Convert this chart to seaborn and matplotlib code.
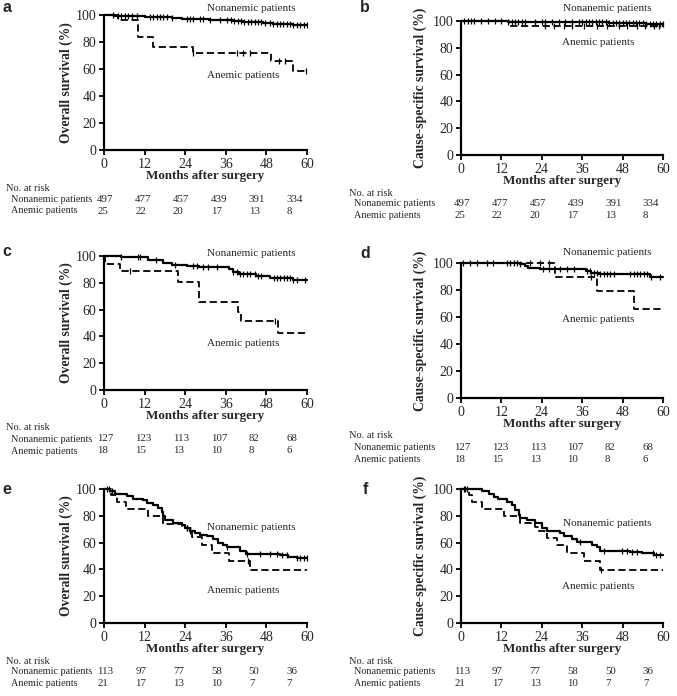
import numpy as np
import matplotlib
matplotlib.use("Agg")
import matplotlib.pyplot as plt
import matplotlib.transforms as mtransforms
import seaborn as sns

# ---- survival curves (months, %) ----
a_non_t = [0, 3, 8, 12, 16, 20, 23, 27, 31, 35, 38, 41, 44, 47, 50, 53, 56, 58, 60]
a_non_s = [100, 99.6, 99.2, 98.8, 98.4, 97.9, 97.4, 96.9, 96.4, 96.0, 95.5, 95.0, 94.5, 94.0, 93.6, 93.2, 92.8, 92.4, 92.4]
a_non_c = [2.8, 4.2, 4.9, 6.2, 7.2, 8.2, 9.7, 13.6, 14.6, 15.6, 16.6, 17.5, 18.5, 20.0, 24.4, 25.4,
           26.4, 28.4, 29.4, 31.3, 34.3, 36.3, 37.5, 38.5, 39.5, 40.5, 41.5, 42.5, 43.5, 44.5, 45.5,
           46.5, 47.5, 49, 50, 51, 52, 53, 54, 55, 56, 57, 58, 59, 60]
a_ane_t = [0, 4.1, 10, 14.5, 26.4, 49.3, 55.8, 60]
a_ane_s = [100, 96, 84, 76, 72, 66, 58.6, 58.6]
a_ane_c = [26.4, 39.2, 41.2, 43.2, 51.6, 53.6, 59.8]

b_non_t = [0, 8, 14, 20, 28, 36, 44, 50, 55, 58, 60]
b_non_s = [100, 99.8, 99.6, 99.4, 99.2, 99.0, 98.7, 98.4, 98.0, 97.6, 97.6]
b_non_c = [1, 2, 3, 4, 6, 8, 10, 12, 14, 15, 16, 17, 18, 19, 22, 24, 25, 27, 29, 31, 33, 35, 36, 37,
           38, 39, 40, 41, 42, 43, 44, 45, 46, 47, 48, 49, 50, 51, 52, 53, 54, 55, 56, 57, 58, 59, 60]
b_ane_t = [0, 14.3, 60]
b_ane_s = [100, 96, 96]
b_ane_c = [25.0, 27.5, 30.5, 32.9, 36.4, 40.4, 43.3, 46.8, 49.3, 52.2, 54.7, 57.2, 58.7]

c_non_t = [0, 5, 13, 17.5, 20, 24.4, 28, 37, 38, 40, 45, 49, 56, 60]
c_non_s = [100, 99, 97, 95, 93.5, 92.5, 91.5, 90, 88, 86.5, 85, 83.5, 82, 82]
c_non_c = [5.1, 10.1, 10.6, 15.5, 20.9, 26.4, 27.4, 29.3, 30.8, 33.3, 38.2, 39.2, 40.2, 41.2, 42.2,
           43.2, 44.5, 45.5, 46.5, 50.1, 51.1, 52.1, 53.1, 54.1, 55, 56, 57, 59.5]
c_ane_t = [0, 0.3, 4.6, 22, 28, 39.5, 40.4, 51.3, 60]
c_ane_s = [100, 94.4, 88.9, 80.6, 66, 58.5, 51.7, 42.8, 42.8]
c_ane_c = [7.6, 50.6]

d_non_t = [0, 17.5, 19, 20, 23.5, 37, 38.5, 41, 56, 60]
d_non_s = [100, 99, 97.5, 96, 95.5, 94, 92.5, 91.5, 90, 90]
d_non_c = [0.7, 2.7, 4.7, 7.6, 9.6, 13.6, 14.6, 15.6, 16.6, 17.6, 24.5, 26, 29.5, 31.5, 33.5, 37.4,
           38.4, 39.4, 40.4, 41.4, 42.4, 43.4, 44.4, 45.4, 50.3, 51.3, 52.3, 53.3, 54.3, 55.3, 56.3, 59.2]
d_ane_t = [0, 28, 40.4, 51.3, 60]
d_ane_s = [100, 90, 78.9, 65.6, 65.6]
d_ane_c = [20.5, 23.5, 26, 38.5]

e_non_t = [0, 1.8, 3.2, 6.7, 8.7, 11.6, 12.6, 14.6, 16, 17, 17.5, 18, 20.5, 23, 24, 25.4, 27, 28.4,
           30.3, 32.3, 33.8, 35.3, 36.3, 40.2, 42, 52, 54.5, 57, 60]
e_non_s = [100, 98.8, 96.5, 94.5, 92.8, 91.6, 89.6, 88, 85.5, 83, 79.5, 77, 75, 73.5, 71, 68.7, 67.5,
           66, 65, 62.6, 60, 58, 56.5, 54, 51.8, 50.6, 49.4, 48.6, 48.6]
e_non_c = [0.8, 1.6, 2.3, 24.4, 25.4, 36.3, 42.2, 46.1, 49.1, 51.1, 52.5, 54, 57, 58, 59, 60]
e_ane_t = [0, 2.2, 3.7, 6.6, 13, 17.5, 23, 25.9, 28.9, 31.8, 36.8, 43.2, 60]
e_ane_s = [100, 95.2, 90.5, 85, 79.5, 74, 71, 64, 58, 52, 46, 39.5, 39.5]
e_ane_c = [24.5, 42.5]

f_non_t = [0, 6.2, 8.2, 9.7, 11, 13.7, 15, 16.1, 17.1, 17.6, 19.6, 22.1, 24.1, 25.5, 29.5, 30.5, 33,
           34.5, 39, 40.4, 41.4, 50.3, 53.8, 57.3, 60]
f_non_s = [100, 98.8, 96.4, 94, 92.8, 90.4, 88, 84.3, 80.7, 78.3, 77, 74.7, 71, 69, 67.5, 65, 62.6,
           60.2, 58, 56.6, 54, 53, 52, 51, 51]
f_non_c = [0.8, 1.3, 1.8, 35.4, 42.4, 47.8, 49.3, 50.8, 52.3, 57, 58, 59]
f_ane_t = [0, 2.3, 3.3, 6.2, 12.7, 17.6, 22.1, 23.1, 25.5, 28.5, 31.5, 36.4, 41.4, 60]
f_ane_s = [100, 95.2, 90.5, 85, 80, 74.7, 72, 69, 63.5, 58, 52, 46, 39.5, 39.5]
f_ane_c = [41.5]

# ---- numbers at risk ----
risk_ab_non = [497, 477, 457, 439, 391, 334]
risk_ab_ane = [25, 22, 20, 17, 13, 8]
risk_cd_non = [127, 123, 113, 107, 82, 68]
risk_cd_ane = [18, 15, 13, 10, 8, 6]
risk_ef_non = [113, 97, 77, 58, 50, 36]
risk_ef_ane = [21, 17, 13, 10, 7, 7]

x_ticks = [0, 12, 24, 36, 48, 60]
y_ticks = [0, 20, 40, 60, 80, 100]

W, H = 677, 696


def step_at(t, s, c):
    t = np.asarray(t)
    s = np.asarray(s)
    idx = np.searchsorted(t, c, side="right") - 1
    return s[idx]


def draw_curve(ax, t, s, cens, dashed):
    ls = (0, (4, 2)) if dashed else "-"
    lw = 1.3 if dashed else 1.6
    sns.lineplot(x=t, y=s, ax=ax, color="black", linewidth=lw, linestyle=ls,
                 drawstyle="steps-post", estimator=None, sort=False, clip_on=False)
    cy = step_at(t, s, np.asarray(cens))
    ax.plot(cens, cy, linestyle="none", marker="|", markersize=4,
            markeredgewidth=0.9, color="black", clip_on=False)


sns.set_theme(style="ticks")
plt.rcParams["font.family"] = ["Liberation Serif", "DejaVu Serif"]

fig = plt.figure(figsize=(W / 100, H / 100), dpi=100)

panels = [
    # letter, left px, top px, bottom px, ylabel, non, ane, risk_non, risk_ane, non label, ane label
    ("a", 104, 15, 150, "Overall survival (%)", (a_non_t, a_non_s, a_non_c), (a_ane_t, a_ane_s, a_ane_c),
     risk_ab_non, risk_ab_ane, (43.5, 105), (41, 55.5)),
    ("b", 461, 21, 155, "Cause-specific survival (%)", (b_non_t, b_non_s, b_non_c), (b_ane_t, b_ane_s, b_ane_c),
     risk_ab_non, risk_ab_ane, (43.3, 109), (40.7, 83.6)),
    ("c", 104, 256, 390, "Overall survival (%)", (c_non_t, c_non_s, c_non_c), (c_ane_t, c_ane_s, c_ane_c),
     risk_cd_non, risk_cd_ane, (43.5, 101.5), (41, 35)),
    ("d", 461, 263, 398, "Cause-specific survival (%)", (d_non_t, d_non_s, d_non_c), (d_ane_t, d_ane_s, d_ane_c),
     risk_cd_non, risk_cd_ane, (43.3, 107.5), (40.7, 58)),
    ("e", 104, 489, 623, "Overall survival (%)", (e_non_t, e_non_s, e_non_c), (e_ane_t, e_ane_s, e_ane_c),
     risk_ef_non, risk_ef_ane, (43.5, 71), (41, 24)),
    ("f", 461, 489, 623, "Cause-specific survival (%)", (f_non_t, f_non_s, f_non_c), (f_ane_t, f_ane_s, f_ane_c),
     risk_ef_non, risk_ef_ane, (43.3, 74), (40.7, 27.6)),
]

num_x = [-2, 9.2, 20.4, 31.6, 42.8, 54]

for letter, left, top, bottom, ylab, non, ane, rnon, rane, non_xy, ane_xy in panels:
    width = 203 if left < 300 else 202
    h = bottom - top
    ax = fig.add_axes([left / W, 1 - bottom / H, width / W, h / H])
    draw_curve(ax, *non, dashed=False)
    draw_curve(ax, *ane, dashed=True)

    ax.set_xlim(0, 60)
    ax.set_ylim(0, 100)
    ax.set_xticks(x_ticks)
    ax.set_yticks(y_ticks)
    ax.tick_params(axis="both", length=3.5, width=1.3, pad=2, labelsize=10, color="black")
    for side in ["left", "bottom"]:
        ax.spines[side].set_linewidth(1.6)
        ax.spines[side].set_color("black")
    sns.despine(ax=ax)

    ax.set_ylabel(ylab, fontsize=9.8, fontweight="bold")
    ax.yaxis.set_label_coords(-(31 if left < 300 else 34) / width, 0.5)
    ax.set_xlabel("Months after surgery", fontsize=9.4, fontweight="bold")
    ax.xaxis.set_label_coords(0.5, -20 / h)

    ax.text(*non_xy, "Nonanemic patients", fontsize=8, ha="center", va="center")
    ax.text(*ane_xy, "Anemic patients", fontsize=8, ha="center", va="center")

    # number at risk table
    lab_x = 6 if left < 300 else 349
    fig.text(lab_x / W, 1 - (bottom + 38) / H, "No. at risk", fontsize=7.5, va="center")
    fig.text((lab_x + 5) / W, 1 - (bottom + 49) / H, "Nonanemic patients", fontsize=7.3, va="center")
    fig.text((lab_x + 5) / W, 1 - (bottom + 61) / H, "Anemic patients", fontsize=7.3, va="center")
    trans = mtransforms.blended_transform_factory(ax.transData, ax.transAxes)
    for x, n1, n2 in zip(num_x, rnon, rane):
        ax.text(x, -49 / h, str(n1), transform=trans, fontsize=7.8, va="center", ha="left")
        ax.text(x, -61 / h, str(n2), transform=trans, fontsize=7.8, va="center", ha="left")

    lx = 7 if left < 300 else 365
    ly = {"a": 8, "b": 8, "c": 252, "d": 253, "e": 490, "f": 489}[letter]
    fig.text(lx / W, 1 - ly / H, letter, fontsize=11.5, fontweight="bold",
             family=["Liberation Sans", "DejaVu Sans"], ha="center", va="center")

fig.savefig("out.png", dpi=100)
